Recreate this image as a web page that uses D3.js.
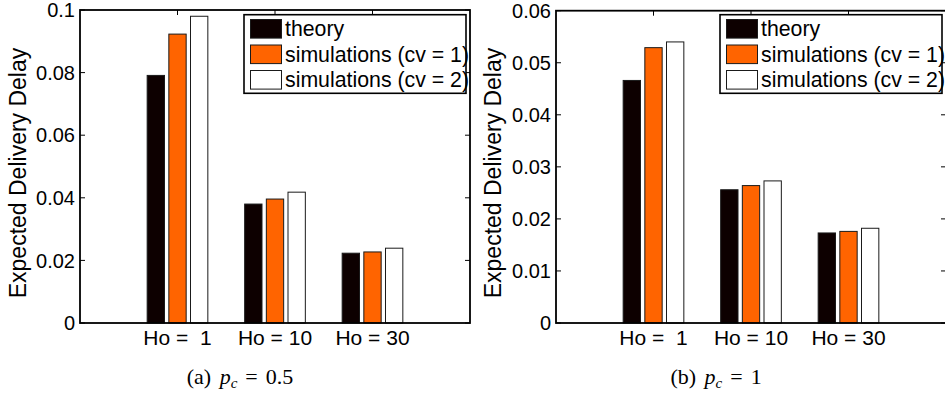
<!DOCTYPE html>
<html>
<head>
<meta charset="utf-8">
<script src="https://cdn.jsdelivr.net/npm/d3@7"></script>
<style>
  html, body { margin: 0; padding: 0; background: #fff; }
  svg { display: block; }
  text { font-family: "Liberation Sans", Arial, Helvetica, sans-serif; fill: #000; }
</style>
</head>
<body>
<svg id="chart" width="945" height="397"></svg>
<script>
// ---------- data ----------
const categories = ["Ho =  1", "Ho = 10", "Ho = 30"];
const seriesNames = ["theory", "simulations (cv = 1)", "simulations (cv = 2)"];
const seriesColors = ["#0d0000", "#ff6400", "#ffffff"];

// panel (a) p_c = 0.5
const theoryA = [0.0791, 0.0380, 0.0223];
const sim1A   = [0.0923, 0.0396, 0.0227];
const sim2A   = [0.0980, 0.0418, 0.0239];
const yTicksA = [0, 0.02, 0.04, 0.06, 0.08, 0.1];
const yTickLabelsA = ["0", "0.02", "0.04", "0.06", "0.08", "0.1"];

// panel (b) p_c = 1
const theoryB = [0.0466, 0.0256, 0.0173];
const sim1B   = [0.0529, 0.0264, 0.0176];
const sim2B   = [0.0540, 0.0273, 0.0182];
const yTicksB = [0, 0.01, 0.02, 0.03, 0.04, 0.05, 0.06];
const yTickLabelsB = ["0", "0.01", "0.02", "0.03", "0.04", "0.05", "0.06"];

const yLabel = "Expected Delivery Delay";
const captionA = { tag: "(a)", value: "0.5" };
const captionB = { tag: "(b)", value: "1" };

// ---------- drawing ----------
const svg = d3.select("#chart");

function drawPanel(cfg) {
  const g = svg.append("g");
  const x = d3.scaleLinear().domain([0, categories.length + 1]).range([cfg.left, cfg.right]);
  const y = d3.scaleLinear().domain([0, cfg.yMax]).range([cfg.bottom, cfg.top]);
  const series = [cfg.s0, cfg.s1, cfg.s2];
  const nS = series.length;
  const groupW = Math.min(0.8, nS / (nS + 1.5));
  const step = groupW / nS;
  const barW = step * 0.8;
  const tickLen = 5;

  // inner ticks (below bars)
  const tk = g.append("g").attr("stroke", "#000").attr("stroke-width", 1);
  cfg.yTicks.forEach(v => {
    tk.append("line").attr("x1", x(0)).attr("x2", x(0) + tickLen).attr("y1", y(v)).attr("y2", y(v));
    tk.append("line").attr("x1", x(categories.length + 1)).attr("x2", x(categories.length + 1) - tickLen).attr("y1", y(v)).attr("y2", y(v));
  });
  categories.forEach((c, i) => {
    tk.append("line").attr("x1", x(i + 1)).attr("x2", x(i + 1)).attr("y1", y(cfg.yMax)).attr("y2", y(cfg.yMax) + tickLen);
    tk.append("line").attr("x1", x(i + 1)).attr("x2", x(i + 1)).attr("y1", y(0)).attr("y2", y(0) - tickLen);
  });

  // bars
  series.forEach((vals, j) => {
    g.append("g").selectAll("rect").data(vals).join("rect")
      .attr("x", (d, i) => x(i + 1 + (j - (nS - 1) / 2) * step - barW / 2))
      .attr("width", x(barW) - x(0))
      .attr("y", d => y(d))
      .attr("height", d => y(0) - y(d))
      .attr("fill", seriesColors[j])
      .attr("stroke", "#1a1a1a")
      .attr("stroke-width", 1);
  });

  // frame
  g.append("rect")
    .attr("x", x(0)).attr("y", y(cfg.yMax))
    .attr("width", x(categories.length + 1) - x(0))
    .attr("height", y(0) - y(cfg.yMax))
    .attr("fill", "none").attr("stroke", "#000").attr("stroke-width", 1.8);

  // y tick labels
  g.append("g").selectAll("text").data(cfg.yTicks).join("text")
    .attr("x", x(0) - 5)
    .attr("y", d => y(d))
    .attr("dy", "0.36em")
    .attr("text-anchor", "end")
    .attr("font-size", 20)
    .text((d, i) => cfg.yTickLabels[i]);

  // x tick labels
  g.append("g").selectAll("text").data(categories).join("text")
    .attr("x", (d, i) => x(i + 1))
    .attr("y", 345)
    .attr("text-anchor", "middle")
    .attr("font-size", 21)
    .style("white-space", "pre")
    .text(d => d);

  // y label
  g.append("text")
    .attr("transform", `translate(${cfg.yLabelX},173) rotate(-90)`)
    .attr("text-anchor", "middle")
    .attr("font-size", 23)
    .text(yLabel);

  // legend
  const lg = g.append("g");
  lg.append("rect")
    .attr("x", cfg.legX).attr("y", 14.7)
    .attr("width", 222).attr("height", 78.6)
    .attr("fill", "#fff").attr("stroke", "#000").attr("stroke-width", 1.6);
  seriesNames.forEach((name, j) => {
    const cy = 28.8 + j * 25.5;
    lg.append("rect")
      .attr("x", cfg.legX + 6.5).attr("y", cy - 9.3)
      .attr("width", 31).attr("height", 18.6)
      .attr("fill", seriesColors[j]).attr("stroke", "#1a1a1a").attr("stroke-width", 1);
    lg.append("text")
      .attr("x", cfg.legX + 41).attr("y", cy + 7.5)
      .attr("font-size", 21.3)
      .text(name);
  });

  // caption
  const cap = g.append("text")
    .attr("x", cfg.capX).attr("y", 384)
    .attr("text-anchor", "middle")
    .attr("font-size", 22)
    .style("font-family", "'Liberation Serif', 'Times New Roman', serif")
    .style("white-space", "pre");
  cap.append("tspan").text(cfg.caption.tag + " ");
  cap.append("tspan").attr("font-style", "italic").attr("dx", 3).text("p");
  cap.append("tspan").attr("font-style", "italic").attr("font-size", 15).attr("dy", 4).text("c");
  cap.append("tspan").attr("dy", -4).attr("dx", 8).text("=");
  cap.append("tspan").attr("dx", 8).text(cfg.caption.value);
}

drawPanel({
  left: 80, right: 470, top: 10, bottom: 323, yMax: 0.1,
  s0: theoryA, s1: sim1A, s2: sim2A,
  yTicks: yTicksA, yTickLabels: yTickLabelsA,
  yLabelX: 26, legX: 244, capX: 240, caption: captionA
});
drawPanel({
  left: 556, right: 946, top: 10.7, bottom: 323, yMax: 0.06,
  s0: theoryB, s1: sim1B, s2: sim2B,
  yTicks: yTicksB, yTickLabels: yTickLabelsB,
  yLabelX: 501, legX: 720, capX: 716, caption: captionB
});
</script>
</body>
</html>
